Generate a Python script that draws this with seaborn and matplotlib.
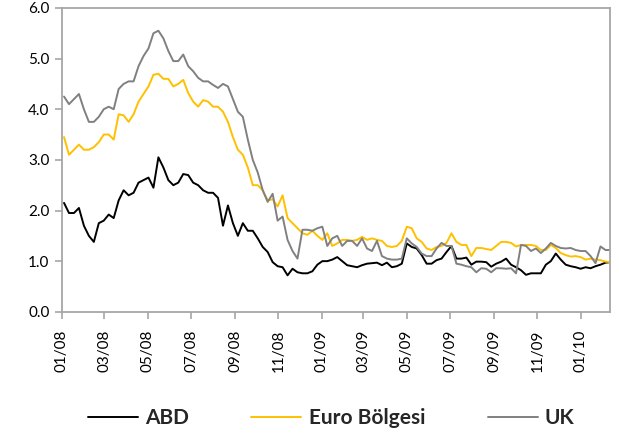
import numpy as np
import pandas as pd
import matplotlib
matplotlib.use("Agg")
import matplotlib.pyplot as plt
import matplotlib.dates as mdates
import seaborn as sns

series_names = ["ABD", "Euro Bölgesi", "UK"]
series_colors = ["#000000", "#FFC000", "#808080"]

abd = [2.15, 1.95, 1.95, 2.05, 1.70, 1.50, 1.38, 1.75, 1.80, 1.92,
       1.85, 2.20, 2.40, 2.30, 2.35, 2.55, 2.60, 2.65, 2.45, 3.05,
       2.85, 2.60, 2.50, 2.55, 2.72, 2.70, 2.55, 2.50, 2.40, 2.35,
       2.35, 2.25, 1.70, 2.10, 1.75, 1.50, 1.75, 1.60, 1.60, 1.45,
       1.28, 1.18, 0.98, 0.90, 0.88, 0.72, 0.85, 0.78, 0.76, 0.76,
       0.80, 0.93, 1.00, 1.00, 1.03, 1.08, 1.00, 0.92, 0.90, 0.88,
       0.92, 0.95, 0.96, 0.97, 0.92, 0.97, 0.88, 0.90, 0.95, 1.35,
       1.28, 1.25, 1.12, 0.95, 0.95, 1.02, 1.05, 1.18, 1.30, 1.05,
       1.05, 1.07, 0.93, 0.99, 0.99, 0.98, 0.89, 0.95, 0.99, 1.05,
       0.93, 0.88, 0.82, 0.73, 0.76, 0.76, 0.76, 0.93, 1.00, 1.15,
       1.03, 0.93, 0.90, 0.88, 0.85, 0.88, 0.86, 0.90, 0.93, 0.97,
       0.98]

euro = [3.45, 3.10, 3.20, 3.30, 3.20, 3.20, 3.25, 3.35, 3.50, 3.50,
        3.40, 3.90, 3.88, 3.75, 3.90, 4.15, 4.30, 4.45, 4.68, 4.70,
        4.60, 4.60, 4.45, 4.50, 4.58, 4.32, 4.15, 4.05, 4.18, 4.15,
        4.05, 4.05, 3.95, 3.75, 3.45, 3.20, 3.10, 2.85, 2.50, 2.50,
        2.40, 2.20, 2.22, 2.08, 2.30, 1.85, 1.75, 1.65, 1.55, 1.52,
        1.60, 1.50, 1.42, 1.55, 1.30, 1.35, 1.42, 1.42, 1.40, 1.42,
        1.48, 1.42, 1.45, 1.42, 1.40, 1.30, 1.28, 1.30, 1.40, 1.68,
        1.65, 1.45, 1.38, 1.25, 1.22, 1.28, 1.30, 1.36, 1.55, 1.38,
        1.32, 1.32, 1.10, 1.26, 1.26, 1.24, 1.22, 1.30, 1.38, 1.38,
        1.36, 1.29, 1.32, 1.32, 1.32, 1.30, 1.22, 1.22, 1.32, 1.26,
        1.16, 1.12, 1.09, 1.10, 1.08, 1.03, 1.05, 1.03, 1.02, 0.99,
        0.98]

uk = [4.25, 4.10, 4.20, 4.30, 4.00, 3.75, 3.75, 3.85, 4.00, 4.05,
      4.00, 4.40, 4.50, 4.55, 4.55, 4.85, 5.05, 5.20, 5.50, 5.55,
      5.40, 5.15, 4.95, 4.95, 5.08, 4.85, 4.75, 4.62, 4.55, 4.55,
      4.48, 4.42, 4.50, 4.45, 4.20, 3.95, 3.85, 3.40, 3.00, 2.75,
      2.40, 2.17, 2.33, 1.80, 1.88, 1.42, 1.20, 1.05, 1.62, 1.62,
      1.60, 1.65, 1.68, 1.30, 1.45, 1.50, 1.30, 1.40, 1.40, 1.30,
      1.45, 1.25, 1.20, 1.40, 1.10, 1.05, 1.03, 1.03, 1.05, 1.45,
      1.35, 1.28, 1.15, 1.10, 1.10, 1.25, 1.36, 1.30, 1.30, 0.95,
      0.93, 0.90, 0.88, 0.78, 0.86, 0.85, 0.78, 0.86, 0.86, 0.85,
      0.86, 0.76, 1.32, 1.30, 1.20, 1.25, 1.16, 1.25, 1.36, 1.30,
      1.26, 1.25, 1.26, 1.22, 1.20, 1.20, 1.10, 0.96, 1.29, 1.22,
      1.22]

assert len(abd) == len(euro) == len(uk)
dates = pd.date_range(start="2008-01-04", periods=len(abd), freq="7D")

y_ticks = [0, 1, 2, 3, 4, 5, 6]

sns.set_style("white")
plt.rcParams["font.family"] = ["Lato", "DejaVu Sans"]

fig = plt.figure(figsize=(6.19, 4.41), dpi=100)
ax = fig.add_axes([0.100, 0.293, 0.885, 0.689])

for name, vals, col in zip(series_names, [abd, euro, uk], series_colors):
    sns.lineplot(x=dates, y=vals, color=col, linewidth=1.4, label=name, ax=ax)

ax.set_ylim(0, 6)
ax.set_yticks(y_ticks)
ax.set_yticklabels([f"{v:.1f}" for v in y_ticks])
ax.set_xlim(pd.Timestamp("2008-01-01"), pd.Timestamp("2010-02-11"))
ax.xaxis.set_major_locator(mdates.MonthLocator(bymonth=[1, 3, 5, 7, 9, 11]))
ax.xaxis.set_major_formatter(mdates.DateFormatter("%m/%y"))
ax.set_xlabel("")
ax.set_ylabel("")

spine_col = "#A6A6A6"
for s in ax.spines.values():
    s.set_color(spine_col)
    s.set_linewidth(1.3)
ax.tick_params(axis="both", which="major", direction="out", length=5,
               width=1.2, color=spine_col, labelsize=11, labelcolor="#000000",
               bottom=True, left=True)
ax.tick_params(axis="x", labelrotation=90, pad=8)
ax.tick_params(axis="y", pad=4)

handles, labels = ax.get_legend_handles_labels()
ax.get_legend().remove()
fig.legend(handles, labels, loc="center", bbox_to_anchor=(0.535, 0.052), ncol=3,
           frameon=False, handlelength=2.4, columnspacing=3.0, handletextpad=0.35,
           prop={"weight": "bold", "size": 15})

fig.savefig("out.png", dpi=100)
